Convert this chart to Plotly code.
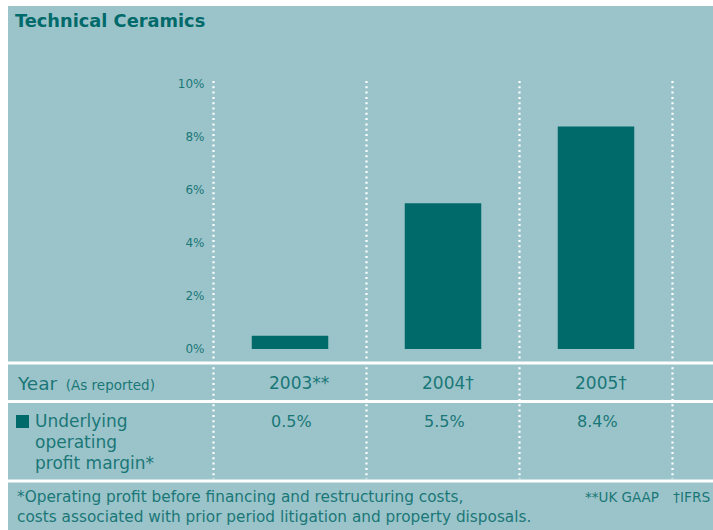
import plotly.graph_objects as go

# Data
years = ["2003**", "2004†", "2005†"]
margin_pct = [0.5, 5.5, 8.4]
y_ticks = [0, 2, 4, 6, 8, 10]
y_tick_text = ["0%", "2%", "4%", "6%", "8%", "10%"]
value_labels = ["0.5%", "5.5%", "8.4%"]

W, H = 713, 530
BG = "#9bc4ca"
DARK = "#006a6b"
TXT = "#1a7777"
FONT = "DejaVu Sans"


def px(x):
    return x / W


def py(y):
    return 1 - y / H


fig = go.Figure()
fig.add_trace(go.Bar(
    x=list(range(len(years))), y=margin_pct,
    marker=dict(color=DARK, line=dict(width=0)),
    width=0.5, hoverinfo="skip", showlegend=False,
))

shapes = []
# teal panel
shapes.append(dict(type="rect", xref="paper", yref="paper",
                   x0=px(8), x1=1.0, y0=0, y1=py(6),
                   fillcolor=BG, line=dict(width=0), layer="below"))
# horizontal white rules of the table
for yy in [363, 401.5, 481]:
    shapes.append(dict(type="line", xref="paper", yref="paper",
                       x0=px(8), x1=1.0, y0=py(yy), y1=py(yy),
                       line=dict(color="white", width=3)))
# dotted column separators
for xx in [213.5, 366.5, 519.5, 672.5]:
    shapes.append(dict(type="line", xref="paper", yref="paper",
                       x0=px(xx), x1=px(xx), y0=py(81), y1=py(479),
                       line=dict(color="white", width=2.2, dash="2px,3.3px")))
# legend square
shapes.append(dict(type="rect", xref="paper", yref="paper",
                   x0=px(16), x1=px(29), y0=py(428), y1=py(415),
                   fillcolor=DARK, line=dict(width=0)))

ann = []


def text(x, y, s, size=16, color=TXT, xanchor="left", weight=None):
    f = dict(family=FONT, size=size, color=color)
    if weight:
        f["weight"] = weight
    ann.append(dict(xref="paper", yref="paper", x=px(x), y=py(y), text=s,
                    showarrow=False, xanchor=xanchor, yanchor="middle",
                    font=f))


text(13, 21, "Technical Ceramics", size=17.8, color=DARK, weight="bold")
text(15, 383, "Year<span style='font-size:13.5px'>  (As reported)</span>", size=18.5)
for i, (yr, v) in enumerate(zip(years, value_labels)):
    cx = 290 + 153 * i
    text(cx - 23, 383, yr, size=17)
    text(cx - 21, 421, v, size=16)
text(33, 421, "Underlying", size=17)
text(33, 442, "operating", size=17)
text(33, 463, "profit margin*", size=17)
text(15, 497, "*Operating profit before financing and restructuring costs,", size=15.3)
text(15, 517, "costs associated with prior period litigation and property disposals.", size=15.3)
text(583, 497, "**UK GAAP", size=13.5)
text(712, 497, "†IFRS", size=13.8, xanchor="right")

fig.update_layout(
    width=W, height=H,
    margin=dict(l=0, r=0, t=0, b=0, pad=0, autoexpand=False),
    paper_bgcolor="white", plot_bgcolor="rgba(0,0,0,0)",
    shapes=shapes, annotations=ann,
    xaxis=dict(domain=[px(213.5), px(672.5)], range=[-0.5, 2.5],
               showticklabels=False, showgrid=False, zeroline=False,
               showline=False, fixedrange=True, automargin=False),
    yaxis=dict(domain=[py(349), py(84)], range=[0, 10],
               tickvals=y_ticks, ticktext=y_tick_text,
               tickfont=dict(family=FONT, size=12, color=TXT),
               ticklabelstandoff=8, automargin=False,
               showgrid=False, zeroline=False, showline=False, ticks="",
               fixedrange=True),
    bargap=0.5,
    showlegend=False,
)

fig.write_html("out.html", config={"displayModeBar": False})
